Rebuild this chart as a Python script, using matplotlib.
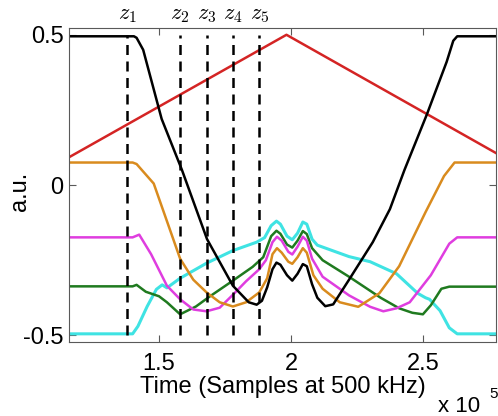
import matplotlib
matplotlib.use('Agg')
import matplotlib.pyplot as plt
import matplotlib.transforms as mtransforms

plt.rcParams['font.family'] = ['Liberation Sans', 'DejaVu Sans']
plt.rcParams['mathtext.fontset'] = 'cm'

# time axis in units of 1e5 samples
red_x = [1.16, 1.983, 2.78]
red_y = [0.093, 0.5, 0.105]

black_x = [1.16, 1.405, 1.415, 1.44, 1.51, 1.587, 1.682, 1.78, 1.84, 1.87, 1.89, 1.91, 1.93,
           1.945, 1.96, 1.985, 2.005, 2.025, 2.045, 2.06, 2.08, 2.10, 2.13, 2.16, 2.22, 2.31,
           2.375, 2.43, 2.515, 2.59, 2.615, 2.63, 2.78]
black_y = [0.495, 0.495, 0.49, 0.45, 0.22, 0.05, -0.18, -0.335, -0.39, -0.398, -0.385, -0.34,
           -0.28, -0.258, -0.265, -0.30, -0.318, -0.295, -0.263, -0.27, -0.33, -0.375, -0.403,
           -0.397, -0.315, -0.19, -0.08, 0.05, 0.235, 0.41, 0.48, 0.495, 0.495]

orange_x = [1.16, 1.40, 1.415, 1.48, 1.58, 1.63, 1.68, 1.73, 1.78, 1.83, 1.88, 1.91, 1.93,
            1.947, 1.965, 1.99, 2.005, 2.025, 2.045, 2.06, 2.085, 2.12, 2.185, 2.255, 2.335,
            2.41, 2.51, 2.58, 2.62, 2.78]
orange_y = [0.075, 0.075, 0.07, 0.005, -0.245, -0.315, -0.357, -0.39, -0.404, -0.39, -0.357,
            -0.31, -0.23, -0.21, -0.225, -0.255, -0.262, -0.24, -0.21, -0.225, -0.30, -0.345,
            -0.39, -0.405, -0.36, -0.27, -0.09, 0.03, 0.075, 0.075]

magenta_x = [1.16, 1.40, 1.425, 1.47, 1.53, 1.58, 1.63, 1.68, 1.73, 1.78, 1.83, 1.88, 1.905,
             1.93, 1.947, 1.965, 1.99, 2.005, 2.025, 2.045, 2.06, 2.08, 2.12, 2.22, 2.30, 2.35,
             2.40, 2.45, 2.53, 2.60, 2.63, 2.78]
magenta_y = [-0.174, -0.174, -0.165, -0.23, -0.335, -0.38, -0.414, -0.42, -0.408, -0.365,
             -0.32, -0.28, -0.25, -0.19, -0.172, -0.185, -0.222, -0.231, -0.205, -0.172,
             -0.185, -0.245, -0.305, -0.367, -0.405, -0.42, -0.41, -0.39, -0.30, -0.195,
             -0.174, -0.174]

green_x = [1.16, 1.40, 1.415, 1.45, 1.50, 1.53, 1.58, 1.64, 1.69, 1.78, 1.855, 1.895, 1.925,
           1.945, 1.96, 1.985, 2.005, 2.025, 2.045, 2.06, 2.08, 2.12, 2.22, 2.34, 2.41, 2.46,
           2.50, 2.53, 2.57, 2.60, 2.78]
green_y = [-0.337, -0.337, -0.332, -0.355, -0.37, -0.39, -0.43, -0.404, -0.372, -0.318,
           -0.272, -0.24, -0.17, -0.152, -0.162, -0.198, -0.208, -0.185, -0.153, -0.163,
           -0.21, -0.25, -0.305, -0.375, -0.41, -0.425, -0.43, -0.40, -0.345, -0.338, -0.338]

cyan_x = [1.16, 1.40, 1.42, 1.455, 1.49, 1.512, 1.53, 1.58, 1.68, 1.78, 1.87, 1.90, 1.925,
          1.945, 1.96, 1.985, 2.005, 2.025, 2.045, 2.06, 2.08, 2.10, 2.22, 2.30, 2.40, 2.48,
          2.51, 2.525, 2.565, 2.60, 2.63, 2.78]
cyan_y = [-0.495, -0.495, -0.47, -0.404, -0.347, -0.332, -0.342, -0.31, -0.26, -0.218, -0.19,
          -0.175, -0.135, -0.12, -0.13, -0.17, -0.182, -0.16, -0.123, -0.13, -0.18, -0.20,
          -0.238, -0.255, -0.295, -0.36, -0.375, -0.38, -0.418, -0.475, -0.495, -0.495]

z_pos = [1.38, 1.58, 1.68, 1.78, 1.88]
z_labels = [r'$z_1$', r'$z_2$', r'$z_3$', r'$z_4$', r'$z_5$']

x_ticks = [1.5, 2.0, 2.5]
x_ticklabels = ['1.5', '2', '2.5']
y_ticks = [-0.5, 0, 0.5]
y_ticklabels = ['-0.5', '0', '0.5']

fig = plt.figure(figsize=(4.98, 4.16), dpi=100)
ax = fig.add_axes([0.1386, 0.178, 0.8574, 0.755])

lw = 1.8
ax.plot(red_x, red_y, color='#d42424', lw=lw)
ax.plot(cyan_x, cyan_y, color='#3fe3e3', lw=lw + 0.4)
ax.plot(green_x, green_y, color='#1f7a1f', lw=lw)
ax.plot(magenta_x, magenta_y, color='#df3ddf', lw=lw)
ax.plot(orange_x, orange_y, color='#d98b1e', lw=lw)
ax.plot(black_x, black_y, color='black', lw=lw)

for zx in z_pos:
    ax.plot([zx, zx], [-0.5, 0.5], color='black', lw=1.8, dashes=(4, 2.6))

trans = mtransforms.blended_transform_factory(ax.transData, ax.transAxes)
for zx, lab in zip(z_pos, z_labels):
    ax.text(zx, 1.008, lab, transform=trans, ha='center', va='bottom', fontsize=16)

ax.set_xlim(1.159, 2.777)
ax.set_ylim(-0.522, 0.523)
ax.set_xticks(x_ticks)
ax.set_xticklabels(x_ticklabels)
ax.set_yticks(y_ticks)
ax.set_yticklabels(y_ticklabels)
ax.tick_params(direction='in', length=5, width=0.8, colors='0.35', labelcolor='black',
               labelsize=17, top=True, right=True)
ax.tick_params(axis='x', pad=8)
ax.tick_params(axis='y', pad=4)
for sp in ax.spines.values():
    sp.set_color('0.35')
    sp.set_linewidth(0.8)

ax.set_xlabel('Time (Samples at 500 kHz)', fontsize=17, labelpad=1)
ax.set_ylabel('a.u.', fontsize=17)
ax.yaxis.set_label_coords(-0.09, 0.48)

ax.text(0.865, -0.205, 'x 10', transform=ax.transAxes, ha='left', va='center', fontsize=16)
ax.text(0.985, -0.165, '5', transform=ax.transAxes, ha='left', va='center', fontsize=11)

fig.savefig('out.png', dpi=100)
